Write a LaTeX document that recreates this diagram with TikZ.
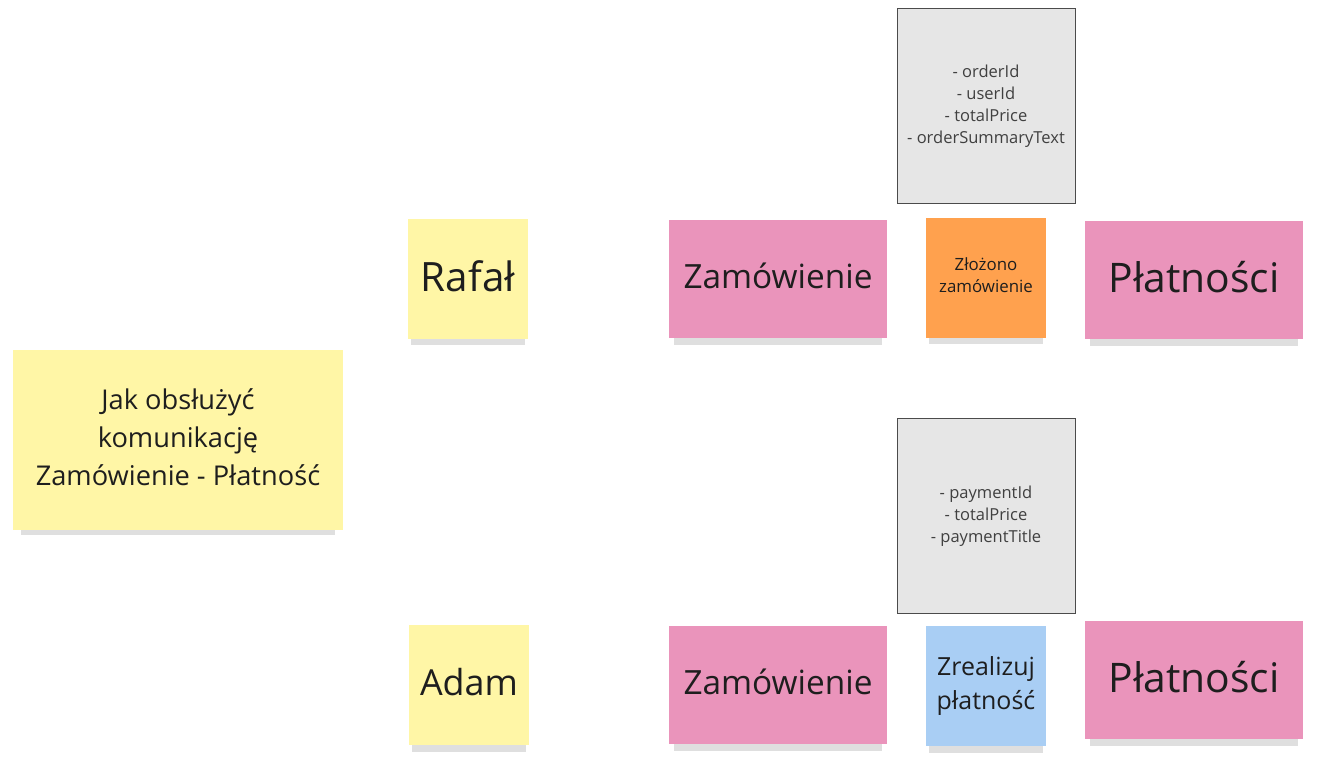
\documentclass[tikz,border=0pt]{standalone}
\usepackage{fontspec}
\setmainfont{Open Sans}
\usepackage{tikz}
\usetikzlibrary{shapes,positioning,shadows}
\definecolor{noteYellow}{HTML}{FFF6A6}
\definecolor{notePink}{HTML}{EA94BB}
\definecolor{noteOrange}{HTML}{FFA14E}
\definecolor{noteBlue}{HTML}{A9CEF4}
\definecolor{dataGrey}{HTML}{E6E6E6}
\definecolor{inkDark}{HTML}{1E1E1E}

\begin{document}
\begin{tikzpicture}[
    x=0.02cm, y=-0.02cm,
    note/.style={rectangle, inner sep=2pt, align=center, text=inkDark, text depth=0.35em,
        drop shadow={shadow xshift=0pt, shadow yshift=-0.2cm, shadow scale=0.95, opacity=0.25}},
    sticky/.style={note, minimum width=2.4cm, minimum height=2.4cm},
    wide/.style={note, fill=notePink, minimum width=4.38cm, minimum height=2.36cm, font=\fontsize{19}{23}\selectfont},
    data/.style={rectangle, draw=inkDark!80, fill=dataGrey, minimum width=3.56cm, minimum height=3.9cm, align=center, text=inkDark!85, font=\fontsize{9.4}{12.5}\selectfont}
]
\useasboundingbox (0,0) rectangle (1318,758);

% Question
\node[note, fill=noteYellow, minimum width=6.6cm, minimum height=3.6cm, font=\fontsize{15.5}{21.5}\selectfont] (question) at (178,440) {Jak obsłużyć\\komunikację\\Zamówienie - Płatność};

% Row 1: Rafał
\node[sticky, fill=noteYellow, font=\fontsize{23}{27}\selectfont] (rafal) at (468,279) {Rafał};
\node[wide] (orderA) at (778,279) {Zamówienie};
\node[sticky, fill=noteOrange, font=\fontsize{9.6}{12.5}\selectfont] (placed) at (986,278) {Złożono\\zamówienie};
\node[wide, font=\fontsize{23.2}{27}\selectfont] (payA) at (1194,280) {Płatności};
\node[data] (orderData) at (986,106) {- orderId\\- userId\\- totalPrice\\- orderSummaryText};

% Row 2: Adam
\node[sticky, fill=noteYellow, font=\fontsize{20.4}{24}\selectfont] (adam) at (469,685) {Adam};
\node[wide] (orderB) at (778,685) {Zamówienie};
\node[sticky, fill=noteBlue, font=\fontsize{14.2}{19.5}\selectfont] (pay) at (986,686) {Zrealizuj\\płatność};
\node[wide, font=\fontsize{23.2}{27}\selectfont] (payB) at (1194,680) {Płatności};
\node[data] (paymentData) at (986,516) {- paymentId\\- totalPrice\\- paymentTitle};
\end{tikzpicture}
\end{document}
